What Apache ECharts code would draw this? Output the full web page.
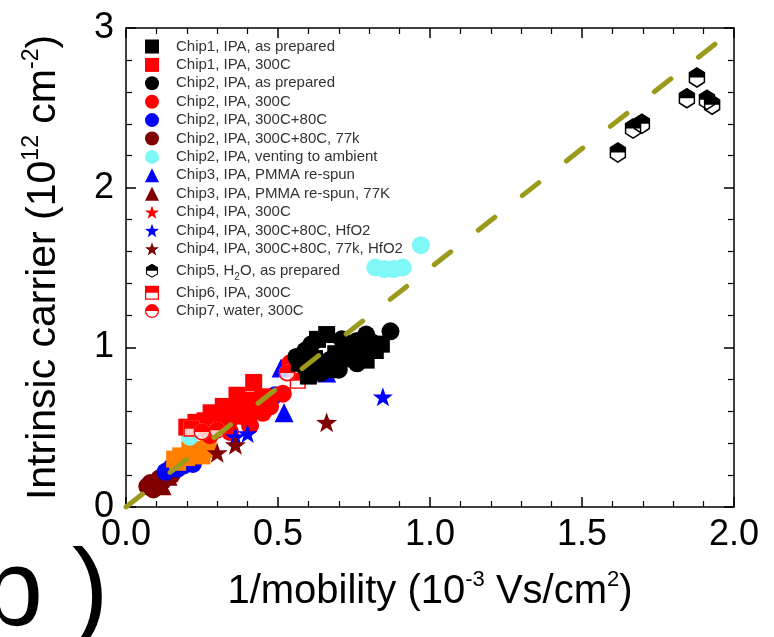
<!DOCTYPE html>
<html><head><meta charset="utf-8">
<script src="https://cdn.jsdelivr.net/npm/echarts@6/dist/echarts.min.js"></script>
<style>html,body{margin:0;padding:0;background:#fff}#c{width:774px;height:637px}</style>
</head><body><div id="c"></div>
<script>
// ---- tick values ----
const xTicks = [0.0, 0.5, 1.0, 1.5, 2.0];
const yTicks = [0, 1, 2, 3];

// ---- data (x: 1/mobility 1e-3 Vs/cm2, y: intrinsic carrier 1e12 cm-2) ----
const chip1Prep = [[0.60,0.82],[0.63,1.05],[0.66,1.08],[0.62,0.93],[0.69,0.96],[0.72,1.00],[0.75,1.02],[0.78,0.97],[0.82,0.98],[0.84,1.02],[0.57,0.90],[0.79,0.92],[0.67,0.86]];
const chip1_300 = [[0.20,0.50],[0.23,0.53],[0.26,0.54],[0.28,0.59],[0.30,0.57],[0.32,0.63],[0.34,0.60],[0.365,0.70],[0.38,0.64],[0.40,0.67],[0.42,0.78],[0.45,0.69],[0.36,0.58]];
const chip2Prep = [[0.56,0.94],[0.59,0.98],[0.61,1.02],[0.65,0.88],[0.67,0.92],[0.70,0.86],[0.73,0.93],[0.76,1.04],[0.79,1.08],[0.76,0.90],[0.81,1.03],[0.87,1.10],[0.64,0.84],[0.71,1.05],[0.59,0.87]];
const chip2_300 = [[0.22,0.50],[0.25,0.50],[0.276,0.45],[0.30,0.52],[0.342,0.47],[0.34,0.55],[0.38,0.57],[0.408,0.51],[0.42,0.60],[0.44,0.66],[0.45,0.59],[0.474,0.63],[0.47,0.68],[0.516,0.71],[0.54,0.90]];
const chip2_80 = [[0.13,0.22],[0.15,0.25],[0.17,0.24],[0.19,0.26],[0.22,0.27],[0.49,0.70]];
const chip2_77 = [[0.07,0.13],[0.08,0.15],[0.10,0.14],[0.11,0.18],[0.12,0.16],[0.13,0.21],[0.09,0.11],[0.15,0.20]];
const chip2Vent = [[0.21,0.44],[0.82,1.50],[0.85,1.49],[0.88,1.49],[0.91,1.50],[0.97,1.64]];
const chip3 = [[0.51,0.87],[0.66,0.84],[0.52,0.59]];
const chip3_77 = [[0.12,0.13],[0.14,0.19]];
const chip4_300 = [[0.34,0.51],[0.41,0.56]];
const chip4_hf = [[0.36,0.44],[0.40,0.46],[0.845,0.69]];
const chip4_77hf = [[0.30,0.34],[0.36,0.39],[0.66,0.53]];
const chip5 = [[1.618,2.22],[1.668,2.37],[1.697,2.40],[1.845,2.56],[1.878,2.69],[1.911,2.55],[1.928,2.52]];
const chip6 = [[0.215,0.49],[0.565,0.79],[0.57,0.86]];
const chip7 = [[0.25,0.47],[0.30,0.48],[0.53,0.84]];
const unlabeled = [[0.16,0.30],[0.18,0.32],[0.20,0.31],[0.22,0.33],[0.24,0.35],[0.26,0.36],[0.21,0.36],[0.17,0.28],[0.25,0.32],[0.27,0.38]];
const fitLine = [[0, 0], [1.945, 2.91]];

const names = [
  'Chip1, IPA, as prepared','Chip1, IPA, 300C','Chip2, IPA, as prepared','Chip2, IPA, 300C',
  'Chip2, IPA, 300C+80C','Chip2, IPA, 300C+80C, 77k','Chip2, IPA, venting to ambient',
  'Chip3, IPA, PMMA re-spun','Chip3, IPA, PMMA re-spun, 77K','Chip4, IPA, 300C',
  'Chip4, IPA, 300C+80C, HfO2','Chip4, IPA, 300C+80C, 77k, HfO2','Chip5, H2O, as prepared',
  'Chip6, IPA, 300C','Chip7, water, 300C'
];

// ---- symbols ----
const STAR = 'path://M10 0L12.35 6.76L19.51 6.91L13.8 11.24L15.88 18.09L10 14L4.12 18.09L6.2 11.24L0.49 6.91L7.65 6.76Z';
const HEX_HALF = 'path://M10 0L18.66 5L18.66 10L1.34 10L1.34 5Z M1.34 10L18.66 10L18.66 15L10 20L1.34 15Z M2.9 10L2.9 14.1L10 18.2L17.1 14.1L17.1 10Z';
const HEX_FULL = 'path://M10 0L18.66 5L18.66 15L10 20L1.34 15L1.34 5Z';
const SQ_HALF = 'path://M0 0L20 0L20 10L0 10Z M0 10L20 10L20 20L0 20Z M1.8 10L1.8 18.2L18.2 18.2L18.2 10Z';
const CI_HALF = 'path://M0 10A10 10 0 0 1 20 10Z M0 10L20 10A10 10 0 0 1 0 10Z M1.8 10A8.2 8.2 0 0 0 18.2 10Z';

function sc(name, data, symbol, color, size) {
  return {
    name: name, type: 'scatter', data: data, symbol: symbol, symbolSize: size,
    symbolKeepAspect: true, itemStyle: { color: color, opacity: 1 }, z: 2
  };
}
let bgCount = 0;
function backing(data, symbol, size) {
  bgCount++;
  return { name: 'backing' + bgCount, type: 'scatter', data: data, symbol: symbol, symbolSize: size,
    symbolKeepAspect: true, itemStyle: { color: '#fff' }, silent: true, z: 2 };
}

const RED = '#ff0000', BLUE = '#0000ff', DRED = '#800000', CYAN = '#80f8f8', BLK = '#000000';

const series = [
  sc(names[5], chip2_77, 'circle', DRED, 18),
  sc(names[8], chip3_77, 'triangle', DRED, 18),
  sc(names[4], chip2_80, 'circle', BLUE, 18),
  sc('orange', unlabeled, 'rect', '#ff8000', 17),
  sc(names[6], chip2Vent, 'circle', CYAN, 18),
  sc(names[7], chip3, 'triangle', BLUE, 19),
  sc(names[1], chip1_300, 'rect', RED, 17),
  sc(names[3], chip2_300, 'circle', RED, 18),
  sc(names[9], chip4_300, STAR, RED, 20),
  sc(names[10], chip4_hf, STAR, BLUE, 20),
  sc(names[11], chip4_77hf, STAR, DRED, 21),
  backing(chip6, 'rect', 16),
  sc(names[13], chip6, SQ_HALF, RED, 16),
  backing(chip7, 'circle', 17),
  sc(names[14], chip7, CI_HALF, RED, 17),
  sc(names[0], chip1Prep, 'rect', BLK, 17),
  sc(names[2], chip2Prep, 'circle', BLK, 18),
  backing(chip5, HEX_FULL, [19, 21]),
  sc(names[12], chip5, HEX_HALF, BLK, [19, 21]),
  {
    name: 'fit', type: 'line', data: fitLine, showSymbol: false, symbol: 'none', z: 5, silent: true,
    lineStyle: { color: '#9c9a1c', width: 5, type: [21, 35], cap: 'round' }
  }
];

const FONT = '"Liberation Sans", Arial, sans-serif';
const tickStyle = { color: '#000', width: 1.5 };
function common() {
  return {
    axisLine: { show: true, onZero: false, lineStyle: { color: '#000', width: 1.5 } },
    axisTick: { show: true, inside: true, length: 10, lineStyle: tickStyle },
    minorTick: { show: true, splitNumber: 5, length: 6, lineStyle: { color: '#000', width: 1.2 } },
    splitLine: { show: false }, minorSplitLine: { show: false }
  };
}
function mkX(pos, withLabels) {
  return Object.assign(common(), {
    type: 'value', position: pos, min: xTicks[0], max: xTicks[xTicks.length - 1],
    interval: xTicks[1] - xTicks[0],
    axisLabel: withLabels ? {
      show: true, margin: 10, color: '#000', fontSize: 36, fontFamily: FONT,
      formatter: v => v.toFixed(1)
    } : { show: false },
    name: withLabels ? '1/mobility (10{sup|-3} Vs/cm{sup|2})' : '',
    nameLocation: 'middle', nameGap: 62,
    nameTextStyle: {
      color: '#000', fontSize: 40, lineHeight: 46, fontFamily: FONT,
      rich: { sup: { fontSize: 22, lineHeight: 22, verticalAlign: 'top', color: '#000', fontFamily: FONT } }
    }
  });
}
function mkY(pos, withLabels) {
  return Object.assign(common(), {
    type: 'value', position: pos, min: yTicks[0], max: yTicks[yTicks.length - 1],
    interval: yTicks[1] - yTicks[0],
    axisLabel: withLabels ? {
      show: true, margin: 12, color: '#000', fontSize: 36, fontFamily: FONT,
      formatter: v => String(v)
    } : { show: false },
    name: withLabels ? 'Intrinsic carrier (10{sup|12} cm{sup|-2})' : '',
    nameLocation: 'middle', nameGap: 58,
    nameTextStyle: {
      color: '#000', fontSize: 41, lineHeight: 48, fontFamily: FONT,
      rich: { sup: { fontSize: 23, lineHeight: 23, verticalAlign: 'top', color: '#000', fontFamily: FONT } }
    }
  });
}

const chart = echarts.init(document.getElementById('c'), null, { renderer: 'canvas' });
chart.setOption({
  animation: false,
  backgroundColor: '#fff',
  grid: { left: 126, right: 40, top: 28, bottom: 130, containLabel: false },
  xAxis: [mkX('bottom', true), mkX('top', false)],
  yAxis: [mkY('left', true), mkY('right', false)],
  legend: {
    data: names, orient: 'vertical', left: 140, top: 34,
    itemWidth: 14, itemHeight: 14, itemGap: 3.4, selectedMode: false,
    textStyle: {
      color: '#333', fontSize: 15, lineHeight: 15, padding: [0, 0, 0, 12], fontFamily: FONT,
      rich: { sub: { fontSize: 10, verticalAlign: 'bottom', lineHeight: 22, color: '#333', padding: [12, 0, 0, 0], fontFamily: FONT } }
    },
    formatter: function (n) { return n === names[12] ? 'Chip5, H{sub|2}O, as prepared' : n; }
  },
  graphic: [
    { type: 'text', left: -18, top: 540, style: { text: 'b', fontSize: 110, fill: '#000', fontFamily: FONT } },
    { type: 'text', left: 72, top: 540, style: { text: ')', fontSize: 110, fill: '#000', fontFamily: FONT } }
  ],
  series: series
});
</script></body></html>
